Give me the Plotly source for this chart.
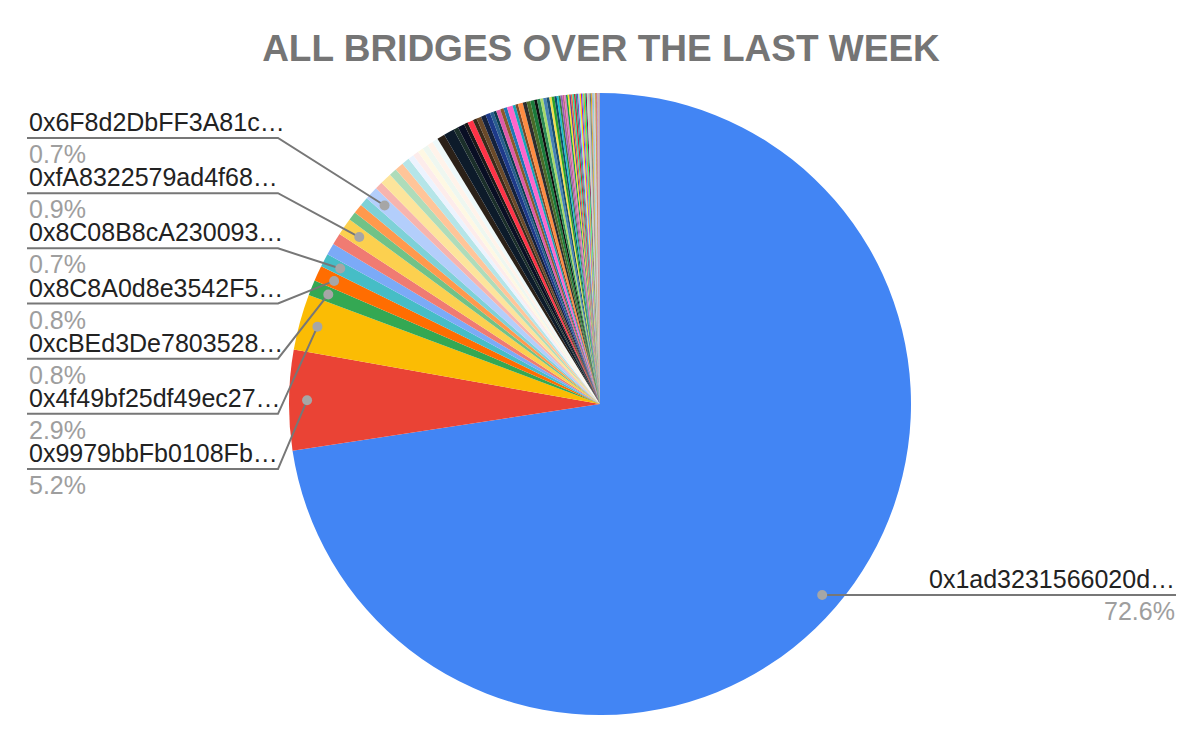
import math
import plotly.graph_objects as go

# ---------------- data ----------------
names = [
    "0x1ad3231566020d…", "0x9979bbFb0108Fb…", "0x4f49bf25df49ec27…",
    "0xcBEd3De7803528…", "0x8C8A0d8e3542F5…", "0x8C08B8cA230093…",
    "Bridge 07", "Bridge 08", "0xfA8322579ad4f68…", "Bridge 10", "Bridge 11",
    "Bridge 12", "0x6F8d2DbFF3A81c…",
] + ["Bridge %02d" % i for i in range(14, 91)]

values = [
    72.6, 5.2, 2.9, 0.8, 0.8, 0.7, 0.6, 0.6, 0.9, 0.45, 0.5, 0.45, 0.7,
    0.4, 0.6, 0.4, 0.45, 0.4, 0.3, 0.3, 0.3, 0.3, 0.3, 0.3,
    0.40, 0.55, 0.25, 0.35, 0.20, 0.30, 0.20, 0.25, 0.25, 0.25,
    0.18, 0.15, 0.22, 0.18, 0.18, 0.30, 0.15, 0.14,
    0.25, 0.20, 0.20, 0.20, 0.15, 0.17, 0.15, 0.17, 0.15, 0.12,
    0.14, 0.12, 0.10, 0.10, 0.10, 0.09, 0.09, 0.09, 0.08, 0.08,
    0.08, 0.08, 0.08, 0.07, 0.07, 0.07, 0.07, 0.06, 0.06, 0.06,
    0.06, 0.06, 0.06, 0.05, 0.05, 0.05, 0.05, 0.05, 0.05, 0.04,
    0.04, 0.04, 0.04, 0.04, 0.03, 0.03, 0.03, 0.03,
]

colors = [
    "#4285f4", "#ea4335", "#fbbc04", "#34a853", "#ff6d01", "#46bdc6",
    "#7baaf7", "#f07b72", "#fcd04f", "#71c287", "#ff994d", "#7ed1d7",
    "#b3cefb", "#f7b4ae", "#fde49b", "#aedcba", "#ffc599", "#b5e5e8",
    "#ecf3fe", "#fdeceb", "#fef8e3", "#eef7f0", "#fff3ea", "#eef9fa",
    "#2b2118", "#0d1b2a", "#1b2f2a", "#0a0f24", "#1a1a1a", "#ff3347",
    "#3a2a1a", "#6b4a2a", "#14213d", "#1e3a8a", "#2a5d8f", "#0b3d4f",
    "#e05aa8", "#8b5a2b", "#1f77b4", "#ff66cc", "#17a2b8", "#7a4b2a",
    "#ff8c42", "#2d2d2d", "#4b6b2a", "#1a7a3a", "#0f0f0f", "#2e8b57",
    "#a6d96a", "#4682b4", "#1b4f72", "#f4e04d", "#2ca02c", "#0e4d64",
    "#17becf", "#3a7d44", "#9b59b6", "#c06c84", "#e377c2", "#1a9850",
    "#f8e71c", "#6a3d9a", "#e8743b", "#2bd9a6", "#d62728", "#16a085",
    "#8e44ad", "#7fdbff", "#ffdc00", "#b10dc9", "#39cccc", "#ff851b",
    "#01ff70", "#85144b", "#a3e4d7", "#e6b0aa", "#aab7b8", "#5d6d7e",
    "#d4ac0d", "#c39bd3", "#76d7c4", "#f5b7b1", "#a9cce3", "#b8860b",
    "#cd6155", "#af7ac5", "#bdbdbd", "#c0a080", "#999999", "#b07aa1",
]

# slices that carry a label (left stack listed top -> bottom)
left_labels = ["0x6F8d2DbFF3A81c…", "0xfA8322579ad4f68…", "0x8C08B8cA230093…",
               "0x8C8A0d8e3542F5…", "0xcBEd3De7803528…", "0x4f49bf25df49ec27…",
               "0x9979bbFb0108Fb…"]
right_labels = ["0x1ad3231566020d…"]

title = "ALL BRIDGES OVER THE LAST WEEK"

# ---------------- geometry (window pixels; page body has an 8px margin) ----------------
OFF = 8
W, H = 1200 - 2 * OFF, 738 - 2 * OFF
CX, CY, R = 600, 404, 311
DOT_R = 0.942 * R
FONT = "Liberation Sans, Arial, sans-serif"
LBL = 25


def px(x, y):
    return (x - OFF) / W, 1 - (y - OFF) / H


total = sum(values)
mid_angle = {}
acc = 0.0
for n, v in zip(names, values):
    mid_angle[n] = (acc + v / 2) / total * 2 * math.pi
    acc += v


def dot_xy(name):
    a = mid_angle[name]
    return CX + DOT_R * math.sin(a), CY - DOT_R * math.cos(a)


def pct(name):
    return "%.1f%%" % (values[names.index(name)] / total * 100)


dx0, dy1 = px(CX - R, CY - R)
dx1, dy0 = px(CX + R, CY + R)
fig = go.Figure(go.Pie(
    labels=names, values=values, sort=False, direction="clockwise", rotation=0,
    marker=dict(colors=colors, line=dict(width=0)), textinfo="none",
    showlegend=False, hoverinfo="label+percent",
    domain=dict(x=[dx0, dx1], y=[dy0, dy1]),
))

annotations = []
shapes = []
LINE_C = "#777777"
DOT_C = "#a6a6a6"


def add_dot(x, y):
    x0, y0 = px(x - 5, y - 5)
    x1, y1 = px(x + 5, y + 5)
    shapes.append(dict(type="circle", xref="paper", yref="paper", x0=x0, y0=y1, x1=x1, y1=y0,
                       fillcolor=DOT_C, line=dict(width=0)))


def path(points):
    s = ""
    for i, (x, y) in enumerate(points):
        xp, yp = px(x, y)
        s += ("M" if i == 0 else " L") + " %.5f,%.5f" % (xp, yp)
    return s


for k, n in enumerate(left_labels):
    ly = 138 + 55.17 * k
    dx, dy = dot_xy(n)
    shapes.append(dict(type="path", xref="paper", yref="paper",
                       path=path([(27, ly), (278, ly), (dx, dy)]),
                       line=dict(color=LINE_C, width=2)))
    add_dot(dx, dy)
    ax, ay = px(27, ly - 16)
    annotations.append(dict(x=ax, y=ay, xref="paper", yref="paper", text=n, showarrow=False,
                            xanchor="left", yanchor="middle", font=dict(size=LBL, color="#222222", family=FONT)))
    ax, ay = px(27, ly + 16)
    annotations.append(dict(x=ax, y=ay, xref="paper", yref="paper", text=pct(n), showarrow=False,
                            xanchor="left", yanchor="middle", font=dict(size=LBL, color="#9e9e9e", family=FONT)))

for n in right_labels:
    dx, dy = dot_xy(n)
    shapes.append(dict(type="path", xref="paper", yref="paper",
                       path=path([(dx, dy), (1176, dy)]),
                       line=dict(color=LINE_C, width=2)))
    add_dot(dx, dy)
    ax, ay = px(1177, dy - 16)
    annotations.append(dict(x=ax, y=ay, xref="paper", yref="paper", text=n, showarrow=False,
                            xanchor="right", yanchor="middle", font=dict(size=LBL, color="#222222", family=FONT)))
    ax, ay = px(1177, dy + 16)
    annotations.append(dict(x=ax, y=ay, xref="paper", yref="paper", text=pct(n), showarrow=False,
                            xanchor="right", yanchor="middle", font=dict(size=LBL, color="#9e9e9e", family=FONT)))

tx, ty = px(601, 48)
fig.update_layout(
    width=W, height=H, margin=dict(l=0, r=0, t=0, b=0),
    paper_bgcolor="white", plot_bgcolor="white",
    title=dict(text="<b>%s</b>" % title, x=tx, xanchor="center", y=ty, yanchor="middle",
               font=dict(size=37, color="#757575", family=FONT)),
    annotations=annotations, shapes=shapes,
)

fig.write_html("out.html")
